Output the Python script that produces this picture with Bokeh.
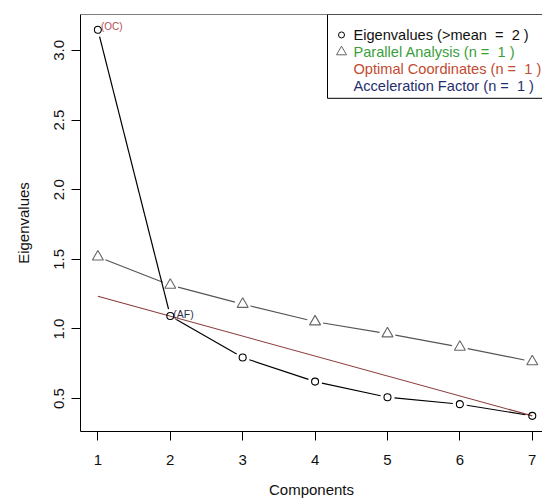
import math
from bokeh.plotting import figure
from bokeh.models import Range1d, FixedTicker, Label, BoxAnnotation, Span
from bokeh.embed import file_html
from bokeh.resources import INLINE
from bokeh.core.properties import value

# ---- data ----
components = [1, 2, 3, 4, 5, 6, 7]
eigenvalues = [3.148, 1.093, 0.795, 0.622, 0.510, 0.460, 0.376]
parallel = [1.518, 1.315, 1.178, 1.052, 0.966, 0.870, 0.766]
oc_x = [1, 7]
oc_y = [1.235, 0.376]
oc_index = 0      # component 1
af_index = 1      # component 2
x_ticks = [1, 2, 3, 4, 5, 6, 7]
y_ticks = [0.5, 1.0, 1.5, 2.0, 2.5, 3.0]
y_tick_labels = ["0.5", "1.0", "1.5", "2.0", "2.5", "3.0"]
NB = "\u00a0"
legend_labels = ["Eigenvalues (>mean " + NB + "= " + NB + "2 )",
                 "Parallel Analysis (n = " + NB + "1 )",
                 "Optimal Coordinates (n = " + NB + "1 )",
                 "Acceleration Factor (n = " + NB + "1 )"]
legend_colors = ["#111111", "#3a9e3a", "#c24a30", "#1f2f6e"]

FONT = "Liberation Sans"

# ---- layout ----
W, H = 542, 500
ML, MR, MT, MB = 80, 0, 14, 68
FW, FH = W - ML - MR, H - MT - MB
x0, x1 = 0.76, 0.76 + FW / 72.4
y0, y1 = 0.2636, 3.258
ppx = FW / (x1 - x0)
ppy = FH / (y1 - y0)

# image pixel -> data
def px2x(px):
    return x0 + (px - ML) / ppx

def px2y(py):
    return y1 - (py - MT) / ppy

p = figure(width=W, height=H, x_range=Range1d(x0, x1), y_range=Range1d(y0, y1),
           output_backend="svg", toolbar_location=None,
           min_border_left=ML, min_border_right=MR, min_border_top=MT, min_border_bottom=MB)
p.grid.visible = False
p.outline_line_color = None
p.background_fill_color = "white"
p.border_fill_color = "white"

for ax in (p.xaxis[0], p.yaxis[0]):
    ax.major_tick_out = 9
    ax.major_tick_in = 0
    ax.minor_tick_out = 0
    ax.minor_tick_in = 0
    ax.axis_line_color = "black"
    ax.major_tick_line_color = "black"
    ax.major_label_text_font = FONT
    ax.major_label_text_font_size = "15px"
    ax.major_label_text_color = "#111111"
    ax.axis_label_text_font = FONT
    ax.axis_label_text_font_size = "15px"
    ax.axis_label_text_font_style = "normal"
    ax.axis_label_text_color = "#111111"

p.xaxis.ticker = FixedTicker(ticks=x_ticks)
p.xaxis.axis_label = "Components"
p.xaxis.major_label_standoff = 14
p.xaxis.axis_label_standoff = 13

p.yaxis.ticker = FixedTicker(ticks=y_ticks)
p.yaxis.major_label_overrides = {t: l for t, l in zip(y_ticks, y_tick_labels)}
p.yaxis.major_label_orientation = "vertical"
p.yaxis.axis_label = "Eigenvalues"
p.yaxis.major_label_standoff = 7
p.yaxis.axis_label_standoff = 20

# top border of the box
p.add_layout(Span(location=y1, dimension="width", line_color="black", line_width=1))


def gapped(xs, ys, gap):
    a, b, c, d = [], [], [], []
    for i in range(len(xs) - 1):
        dx = (xs[i + 1] - xs[i]) * ppx
        dy = (ys[i + 1] - ys[i]) * ppy
        L = math.hypot(dx, dy)
        if L <= 2 * gap:
            continue
        f = gap / L
        a.append(xs[i] + (xs[i + 1] - xs[i]) * f)
        b.append(ys[i] + (ys[i + 1] - ys[i]) * f)
        c.append(xs[i + 1] - (xs[i + 1] - xs[i]) * f)
        d.append(ys[i + 1] - (ys[i + 1] - ys[i]) * f)
    return a, b, c, d

# optimal coordinates line
p.line(oc_x, oc_y, line_color="#8b3a3a", line_width=1.1)

# parallel analysis
sx0, sy0, sx1, sy1 = gapped(components, parallel, 8)
p.segment(sx0, sy0, sx1, sy1, line_color="#555555", line_width=1.1)
p.scatter(components, parallel, marker="triangle", size=11, fill_color=None,
          line_color="#666666", line_width=1.1)

# eigenvalues
ex0, ey0, ex1, ey1 = gapped(components, eigenvalues, 7)
p.segment(ex0, ey0, ex1, ey1, line_color="black", line_width=1.2)
p.scatter(components, eigenvalues, marker="circle", size=7, fill_color=None,
          line_color="black", line_width=1.1)

# (OC) and (AF) labels
p.text([components[oc_index]], [eigenvalues[oc_index]], text=["(OC)"],
       text_font=value(FONT), text_font_size="10px", text_color="#b05050",
       text_align="left", text_baseline="middle", x_offset=3, y_offset=-3)
p.text([components[af_index]], [eigenvalues[af_index]], text=["(AF)"],
       text_font=value(FONT), text_font_size="10.5px", text_color="#303048",
       text_align="left", text_baseline="middle", x_offset=3, y_offset=-2)

# legend
p.add_layout(BoxAnnotation(left=px2x(327), right=px2x(620), top=px2y(14), bottom=px2y(98),
                           fill_color="white", fill_alpha=1.0, line_color="black",
                           line_alpha=1.0, line_width=1, level="annotation"))
rows = [34.5, 51.5, 68.5, 85.5]
p.scatter([px2x(341)], [px2y(rows[0])], marker="circle", size=6, fill_color=None,
          line_color="black", line_width=1.0, level="overlay")
p.scatter([px2x(341)], [px2y(rows[1])], marker="triangle", size=10, fill_color=None,
          line_color="#666666", line_width=1.0, level="overlay")
for txt, col, r in zip(legend_labels, legend_colors, rows):
    p.add_layout(Label(x=px2x(353), y=px2y(r), text=txt, text_color=col,
                       text_font=FONT, text_font_size="14.6px",
                       text_align="left", text_baseline="middle", level="overlay"))

open("out.html", "w").write(file_html(p, INLINE))
